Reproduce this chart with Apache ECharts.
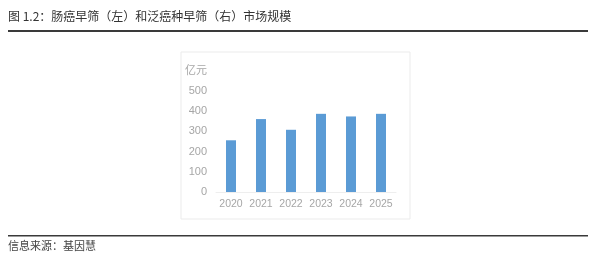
<!DOCTYPE html>
<html><head><meta charset="utf-8">
<style>html,body{margin:0;padding:0;background:#fff;}#c{width:600px;height:265px;}</style>
<script src="https://cdn.jsdelivr.net/npm/echarts@6/dist/echarts.min.js"></script>
</head><body><div id="c"></div>
<script>
const titleText = '图 1.2：肠癌早筛（左）和泛癌种早筛（右）市场规模';
const sourceText = '信息来源：基因慧';
const unitLabel = '亿元';
const years = ['2020','2021','2022','2023','2024','2025'];
const values = [256, 361, 308, 387, 374, 387];
const yTicks = [0,100,200,300,400,500];

const chart = echarts.init(document.getElementById('c'), null, {renderer:'canvas'});
const cjk = '"Noto Sans CJK SC", sans-serif';
const num = '"Liberation Sans", Arial, sans-serif';
chart.setOption({
  animation:false,
  backgroundColor:'#fff',
  textStyle:{fontFamily:num},
  graphic:[
    {type:'rect', shape:{x:181,y:52,width:229,height:167}, style:{fill:'#fff',stroke:'#ebebeb',lineWidth:1}, z:-10},
    {type:'text', left:8, top:10, style:{text:titleText, font:'12px '+cjk, fill:'#333'}},
    {type:'rect', shape:{x:8,y:30,width:580,height:2}, style:{fill:'#3a3a3a'}},
    {type:'rect', shape:{x:8,y:235,width:580,height:1.5}, style:{fill:'#3a3a3a'}},
    {type:'text', left:8, top:240, style:{text:sourceText, font:'11px '+cjk, fill:'#444'}}
  ],
  grid:{left:216, right:204, top:91, bottom:73, containLabel:false},
  xAxis:{type:'category', data:years,
    axisLine:{show:true, lineStyle:{color:'#eeeeee'}},
    axisTick:{show:false},
    axisLabel:{color:'#a6a6a6', fontSize:10.5, margin:7, interval:0, fontFamily:num}},
  yAxis:{type:'value', min:0, max:500, interval:100,
    name:unitLabel, nameLocation:'end', nameGap:16,
    nameTextStyle:{color:'#a6a6a6', fontSize:11, align:'right', padding:[0,9,0,0], fontFamily:cjk},
    axisLine:{show:false}, axisTick:{show:false}, splitLine:{show:false},
    axisLabel:{color:'#a6a6a6', fontSize:11, margin:9, fontFamily:num,
      formatter:v=>yTicks.includes(v)?String(v):''}},
  series:[{type:'bar', data:values, barWidth:10, itemStyle:{color:'#5b9bd5'}}]
});
</script></body></html>
